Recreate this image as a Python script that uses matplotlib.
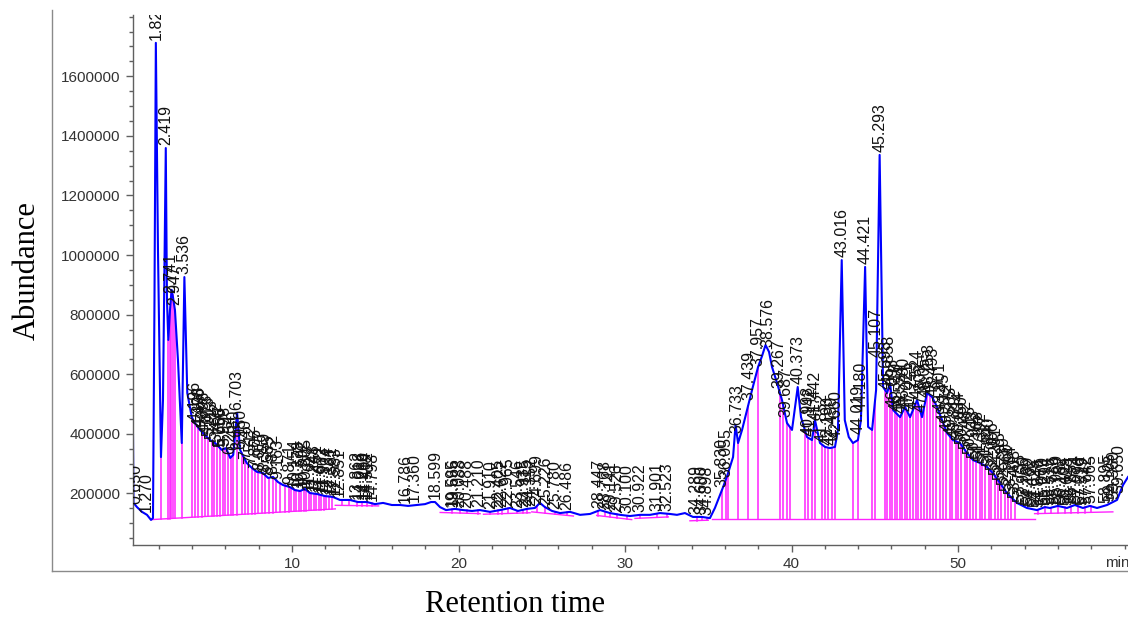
import matplotlib.pyplot as plt
import numpy as np
from matplotlib.lines import Line2D

plt.rcParams['font.family'] = ['Liberation Sans', 'DejaVu Sans']

# total ion chromatogram: retention time (min), abundance
rt = [0.45, 0.48, 0.69, 0.99, 1.29, 1.53, 1.65, 1.74, 1.822, 1.95,
      2.13, 2.25, 2.419, 2.49, 2.57, 2.67, 2.77, 2.85, 2.97, 3.15,
      3.38, 3.536, 3.71, 3.98, 4.17, 4.47, 4.77, 5.08, 5.38, 5.78,
      6.04, 6.29, 6.47, 6.703, 6.88, 7.28, 7.60, 7.90, 8.26, 8.56,
      8.86, 9.16, 9.46, 9.88, 10.18, 10.48, 10.78, 11.08, 11.50, 11.98,
      12.46, 12.88, 13.48, 13.96, 14.50, 14.98, 15.47, 16.00, 16.49, 16.97,
      17.51, 17.99, 18.35, 18.59, 18.89, 19.25, 19.79, 20.27, 20.81, 21.29,
      21.89, 22.49, 23.09, 23.57, 24.11, 24.59, 24.89, 25.19, 25.62, 26.10,
      26.70, 27.30, 27.90, 28.50, 29.10, 29.70, 30.30, 30.90, 31.50, 32.10,
      32.70, 33.12, 33.60, 34.08, 34.62, 35.10, 35.40, 35.89, 36.19, 36.49,
      36.64, 36.79, 37.03, 37.33, 37.63, 37.99, 38.23, 38.44, 38.65, 38.83,
      39.13, 39.43, 39.73, 40.03, 40.373, 40.57, 40.93, 41.23, 41.41, 41.71,
      42.01, 42.31, 42.61, 42.79, 43.016, 43.20, 43.44, 43.69, 43.99, 44.17,
      44.421, 44.60, 44.84, 45.08, 45.293, 45.50, 45.74, 45.92, 46.10, 46.52,
      46.82, 47.12, 47.54, 47.84, 48.14, 48.44, 48.74, 49.04, 49.34, 49.70,
      50.12, 50.54, 50.90, 51.32, 51.74, 52.10, 52.52, 52.94, 53.54, 54.14,
      54.74, 55.22, 55.52, 56.00, 56.54, 57.02, 57.50, 57.92, 58.35, 58.95,
      59.55, 59.91, 60.21]
abundance = [396000, 168000, 154000, 138000, 128000, 111000, 117000, 849000, 1712000, 1017000,
             322000, 513000, 1359000, 849000, 715000, 815000, 883000, 859000, 815000, 648000,
             369000, 926000, 537000, 456000, 436000, 413000, 396000, 379000, 369000, 346000,
             352000, 319000, 329000, 470000, 346000, 302000, 285000, 272000, 268000, 252000,
             255000, 238000, 228000, 221000, 211000, 208000, 215000, 201000, 198000, 191000,
             188000, 178000, 178000, 171000, 171000, 164000, 168000, 161000, 161000, 158000,
             161000, 164000, 171000, 171000, 154000, 144000, 148000, 144000, 141000, 144000,
             138000, 144000, 151000, 141000, 148000, 151000, 168000, 154000, 141000, 134000,
             138000, 128000, 131000, 144000, 134000, 128000, 124000, 128000, 128000, 134000,
             131000, 128000, 134000, 121000, 121000, 117000, 151000, 221000, 268000, 322000,
             430000, 369000, 413000, 480000, 547000, 624000, 661000, 698000, 675000, 624000,
             571000, 513000, 436000, 413000, 557000, 456000, 389000, 379000, 446000, 369000,
             356000, 352000, 356000, 413000, 983000, 446000, 389000, 369000, 379000, 446000,
             960000, 423000, 413000, 547000, 1336000, 557000, 537000, 570000, 480000, 456000,
             490000, 456000, 513000, 456000, 537000, 524000, 490000, 446000, 403000, 379000,
             369000, 336000, 312000, 302000, 289000, 268000, 235000, 201000, 168000, 151000,
             144000, 154000, 151000, 158000, 151000, 161000, 151000, 158000, 151000, 161000,
             178000, 228000, 255000]

# integration baselines (start time, start value, end time, end value)
baselines = [(1.55, 112000, 12.6, 148000), (12.6, 160000, 15.2, 158000),
             (18.9, 136000, 21.3, 132000), (21.5, 130000, 24.3, 135000),
             (24.4, 138000, 26.9, 124000), (28.3, 126000, 30.4, 112000),
             (30.6, 116000, 32.6, 121000), (33.9, 108000, 35.0, 110000),
             (35.2, 114000, 54.6, 114000), (54.6, 132000, 59.3, 138000)]

# drop lines of the integrated peaks
drops = [2.13, 2.57, 2.67, 2.75, 2.83, 2.97, 3.38, 3.98, 4.20, 4.38, 4.58, 4.78, 4.97,
         5.17, 5.33, 5.48, 5.68, 5.85, 5.98, 6.18, 6.33, 6.48, 6.68, 6.98, 7.18, 7.38,
         7.58, 7.78, 7.98, 8.20, 8.40, 8.62, 8.85, 9.05, 9.30, 9.55, 9.80, 9.95, 10.10,
         10.25, 10.40, 10.55, 10.70, 10.85, 11.00, 11.15, 11.30, 11.45, 11.60, 11.75,
         11.90, 12.05, 12.20, 12.40, 13.0, 13.4, 13.9, 14.2, 14.5, 14.8,
         19.6, 20.1, 20.5, 21.2, 21.9, 22.4, 22.6, 23.0, 23.5, 23.9, 24.1, 24.7, 25.2,
         25.8, 26.5, 28.4, 28.8, 29.1, 29.5, 30.1, 30.9, 31.9, 32.5, 34.3, 34.6, 34.9,
         35.83, 36.06, 36.20, 36.79, 37.39, 37.99, 39.31, 39.49, 39.73, 39.91, 40.81,
         40.99, 41.23, 41.41, 41.83, 42.01, 42.19, 42.43, 42.61, 43.69, 43.99, 44.84,
         45.02, 45.62, 45.75, 45.90, 46.02, 46.20, 46.35, 46.50, 46.65, 46.80, 46.95,
         47.10, 47.30, 47.45, 47.60, 47.80, 47.95, 48.15, 48.30, 48.50, 48.70, 48.90,
         49.10, 49.30, 49.50, 49.65, 49.85, 50.00, 50.20, 50.40, 50.55, 50.75, 50.90,
         51.10, 51.30, 51.45, 51.65, 51.85, 52.00, 52.20, 52.40, 52.60, 52.80, 53.00,
         53.20, 53.40, 54.8, 55.2, 55.6, 56.0, 56.4, 56.8, 57.2, 57.6, 58.0]

# retention-time labels printed over the peaks
peak_labels = ["0.650", "1.270", "1.822", "2.419", "2.741", "2.947", "3.536",
               "4.196", "4.398", "4.476", "4.698", "4.873", "5.013", "5.213", "5.472",
               "5.688", "5.756", "5.998", "6.254", "6.480", "6.703", "6.950", "7.240",
               "7.512", "7.806", "8.077", "8.359", "8.585", "8.872", "9.163",
               "9.871", "10.154", "10.378", "10.592", "10.805", "11.027", "11.248",
               "11.461", "11.672", "11.903", "12.134", "12.361", "12.583", "12.851",
               "13.862", "14.018", "14.260", "14.404", "14.512", "14.798",
               "16.786", "17.360", "18.599", "19.595", "19.666", "20.088", "20.488",
               "21.210", "21.910", "22.405", "22.622", "22.965", "23.546", "23.935",
               "24.115", "24.352", "24.699", "25.226", "25.780", "26.486",
               "28.447", "28.768", "29.141", "29.526", "30.100", "30.922", "31.901",
               "32.523", "34.289", "34.600", "34.898",
               "35.830", "36.055", "36.733", "37.439", "37.957", "38.576", "39.267",
               "39.687", "40.373", "40.998", "41.142", "41.442", "41.852", "42.190",
               "42.450", "42.660", "43.016", "44.019", "44.180", "44.421", "45.107",
               "45.293", "45.698", "45.858", "46.098", "46.310", "46.554", "46.780",
               "47.021", "47.253", "47.524", "47.803", "48.055", "48.253", "48.493",
               "48.901", "49.145", "49.372", "49.585", "49.812", "50.034", "50.260",
               "50.482", "50.715", "50.943", "51.168", "51.392", "51.617", "51.840",
               "52.066", "52.291", "52.515", "52.739", "52.960", "53.184", "53.408",
               "53.735", "53.960", "54.180", "54.402", "54.625", "54.846", "55.070",
               "55.294", "55.515", "55.736", "55.960", "56.182", "56.405", "56.628",
               "56.851", "57.074", "57.296", "57.519", "57.742", "57.965",
               "58.895", "59.105", "59.360", "59.650"]

y_ticks = [200000, 400000, 600000, 800000, 1000000, 1200000, 1400000, 1600000]
x_ticks = [10, 20, 30, 40, 50]

W, H = 1128, 617
fig = plt.figure(figsize=(W / 100, H / 100), dpi=100)

# outer frame (left + bottom lines)
fig.add_artist(Line2D([52 / W, 52 / W], [1 - 10 / H, 1 - 571 / H], color='#8a8a8a', lw=1.0))
fig.add_artist(Line2D([52 / W, 1.0], [1 - 571 / H, 1 - 571 / H], color='#8a8a8a', lw=1.0))

ax = fig.add_axes([133 / W, 1 - 545 / H, (W - 133) / W, (545 - 15) / H])
ax.set_xlim(0.45, 60.21)
ax.set_ylim(26800, 1805500)

rt_arr = np.array(rt)
ab_arr = np.array(abundance)

# magenta integration marks
for t0, a0, t1, a1 in baselines:
    ax.plot([t0, t1], [a0, a1], color='#ff22ff', lw=1.0, zorder=1)
for t in drops:
    for t0, a0, t1, a1 in baselines:
        if t0 <= t <= t1:
            base = np.interp(t, [t0, t1], [a0, a1])
            top = np.interp(t, rt_arr, ab_arr)
            ax.plot([t, t], [base, top], color='#ff22ff', lw=1.1, zorder=1)
            break

ax.plot(rt, abundance, color='#0000ff', lw=1.5, zorder=2)

for lab in peak_labels:
    t = float(lab)
    ax.annotate(lab, (t, np.interp(t, rt_arr, ab_arr)), xytext=(0, 2),
                textcoords='offset points', rotation=90, ha='center', va='bottom',
                fontsize=11.5, color='#111111', zorder=3, clip_on=True)

for s in ['top', 'right']:
    ax.spines[s].set_visible(False)
for s in ['left', 'bottom']:
    ax.spines[s].set_color('#606060')
    ax.spines[s].set_linewidth(1.0)

ax.set_yticks(y_ticks)
ax.set_yticklabels([str(v) for v in y_ticks])
ax.set_yticks(np.arange(50000, 1800001, 50000), minor=True)
ax.set_xticks(x_ticks)
ax.set_xticks(np.arange(2, 61, 2), minor=True)
ax.tick_params(which='major', direction='out', length=5, width=1, color='#606060',
               labelsize=11, labelcolor='#333333', pad=4)
ax.tick_params(which='minor', direction='out', length=3, width=1, color='#606060')

fig.text(1105 / W, 1 - 563 / H, 'min', fontsize=11, color='#333333', ha='left', va='center')

fig.text(27 / W, 1 - 271 / H, 'Abundance', rotation=90, fontsize=22, ha='center', va='center',
         family='Liberation Serif')
fig.text(515 / W, 1 - 604 / H, 'Retention time', fontsize=22, ha='center', va='center',
         family='Liberation Serif')

fig.savefig('out.png', dpi=100)
